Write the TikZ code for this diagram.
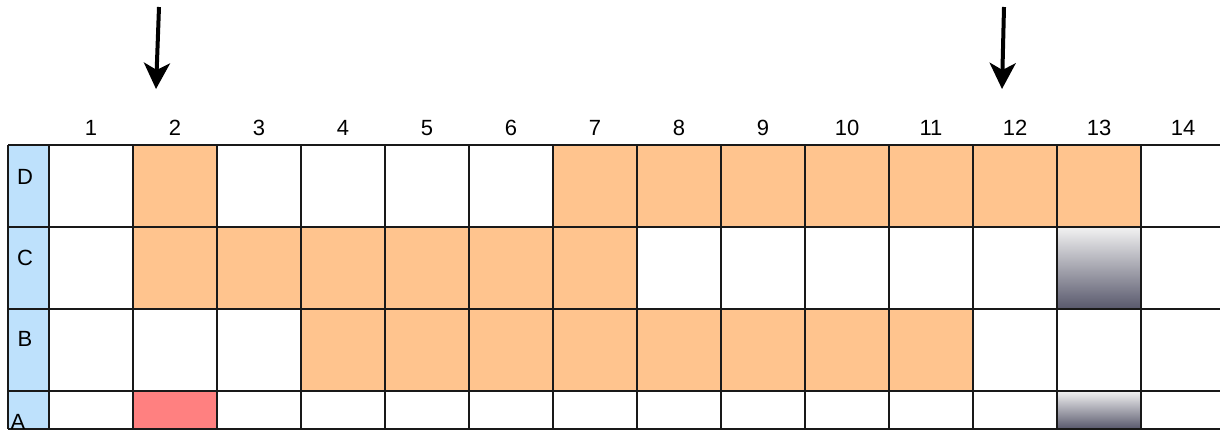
\documentclass[tikz,border=0pt]{standalone}
\usepackage{fontspec}
\setmainfont{Liberation Sans}
\usetikzlibrary{arrows.meta}
\definecolor{orangecell}{RGB}{255,196,142}
\definecolor{redcell}{RGB}{255,128,128}
\definecolor{bluecell}{RGB}{190,225,252}
\definecolor{darkgrad}{RGB}{88,88,108}
\definecolor{lightgrad}{RGB}{242,242,242}
\tikzset{
  gridline/.style={line width=2.4pt, draw=black!90},
  lbl/.style={font=\fontsize{22}{22}\selectfont, inner sep=0pt},
  ptr/.style={line width=4pt, -{Stealth[length=26pt,width=26pt,inset=7pt]}},
}
\begin{document}
\begin{tikzpicture}[x=1pt,y=-1pt]
\useasboundingbox (0,0) rectangle (1220,434);
% column boundaries: x_i = 49 + 84*(i-1)
\def\cx#1{49+84*(#1-1)}
% row boundaries
\def\rD{145}\def\rC{227}\def\rB{309}\def\rA{391}\def\rE{429}
% blue label column
\fill[bluecell] (8,\rD) rectangle (49,\rE);
% orange cells row D
\foreach \c in {2,7,8,9,10,11,12,13}
  \fill[orangecell] ({\cx{\c}},\rD) rectangle ({\cx{\c}+84},\rC);
% row C
\foreach \c in {2,3,4,5,6,7}
  \fill[orangecell] ({\cx{\c}},\rC) rectangle ({\cx{\c}+84},\rB);
% row B
\foreach \c in {4,5,6,7,8,9,10,11}
  \fill[orangecell] ({\cx{\c}},\rB) rectangle ({\cx{\c}+84},\rA);
% row A red
\fill[redcell] ({\cx{2}},\rA) rectangle ({\cx{2}+84},\rE);
% gradient cells
\shade[top color=lightgrad, bottom color=darkgrad] ({\cx{13}},\rC) rectangle ({\cx{13}+84},\rB);
\shade[top color=lightgrad, bottom color=darkgrad] ({\cx{13}},\rA) rectangle ({\cx{13}+84},\rE);
% horizontal lines
\foreach \y in {\rD,\rC,\rB,\rA,\rE}
  \draw[gridline] (8,\y) -- (1220,\y);
% vertical lines
\draw[gridline] (8,\rD) -- (8,\rE);
\foreach \c in {1,...,14}
  \draw[gridline] ({\cx{\c}},\rD) -- ({\cx{\c}},\rE);
% column numbers
\foreach \c in {1,...,14}
  \node[lbl] (n\c) at ({\cx{\c}+42},128) {\c};
% row labels
\node[lbl] (lD) at (25,177) {D};
\node[lbl] (lC) at (25,258) {C};
\node[lbl] (lB) at (25,339) {B};
\node[lbl, anchor=base] (lA) at (18,429) {A};
% arrows
\coordinate (a1s) at (159,7);
\coordinate (a1e) at (156,89);
\coordinate (a2s) at (1004,7);
\coordinate (a2e) at (1002,89);
\draw[ptr] (a1s) -- (a1e);
\draw[ptr] (a2s) -- (a2e);
\end{tikzpicture}
\end{document}
